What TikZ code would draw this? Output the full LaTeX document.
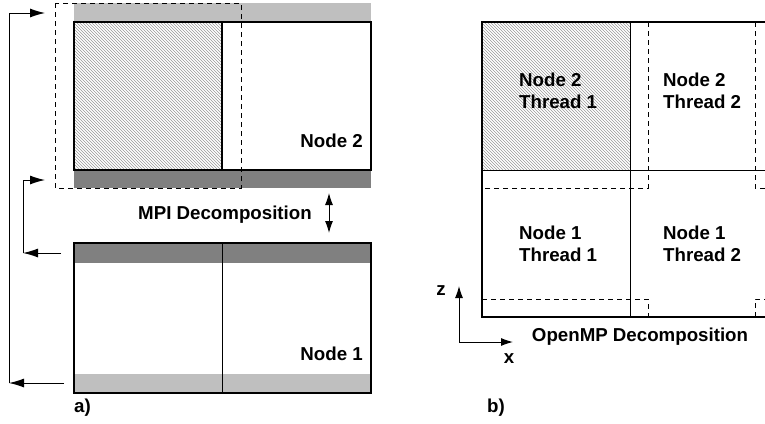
\documentclass[tikz,border=0pt]{standalone}
\usepackage{fontspec}
\setmainfont{Liberation Sans}
\usetikzlibrary{arrows.meta,patterns}

\tikzset{
  lbl/.style={font=\fontsize{18.7}{22}\selectfont\bfseries, inner sep=0pt},
  hatched/.style={fill=white, pattern=north west lines, pattern color=black!40},
  ghost/.style={dash pattern=on 5pt off 4pt, line width=1pt},
  outline/.style={line width=1.4pt},
  arr/.style={-{Latex[length=15pt,width=9pt]}, line width=1pt},
}

\begin{document}
\begin{tikzpicture}[x=1pt,y=-1pt]
\useasboundingbox (0,0) rectangle (765,423);

% a) Node 2
\fill[black!25] (74,3) rectangle (371,22);
\fill[white] (74,22) rectangle (371,170);
\fill[hatched] (74,22) rectangle (222,170);
\fill[black!50] (74,170) rectangle (371,188);
\draw[outline] (74,22) rectangle (371,170);
\draw[outline] (222,22) -- (222,170);
\draw[ghost] (55,3) rectangle (241,188);
\node[lbl, anchor=base east] (node2) at (363,147) {Node 2};

% a) Node 1
\fill[black!50] (74,243) rectangle (371,263);
\fill[black!25] (74,374) rectangle (371,393);
\draw[outline] (74,243) rectangle (371,393);
\draw[line width=1pt] (222,243) -- (222,393);
\node[lbl, anchor=base east] (node1) at (363,360) {Node 1};

% MPI Decomposition
\node[lbl] (mpi) at (225,215) {MPI Decomposition};
\coordinate (mpitop) at (329,193);
\coordinate (mpibot) at (329,233);
\draw[{Latex[length=12pt,width=8pt]}-{Latex[length=12pt,width=8pt]}, line width=1pt] (mpitop) -- (mpibot);

% halo exchange arrows
\coordinate (outA) at (64,383);
\coordinate (cornerA) at (9,383);
\coordinate (inA) at (45,13);
\draw[arr] (outA) -- (cornerA);
\draw[arr] (cornerA) |- (inA);
\coordinate (outB) at (61,253);
\coordinate (cornerB) at (23,253);
\coordinate (inB) at (45,180);
\draw[arr] (outB) -- (cornerB);
\draw[arr] (cornerB) |- (inB);

\node[lbl, anchor=west] (capa) at (74,408) {a)};

% b) threads
\fill[hatched] (482,22) rectangle (630,170);
\draw[outline] (765,22) -- (482,22) -- (482,317) -- (765,317);
\draw[line width=1pt] (482,170) -- (765,170);
\draw[line width=1pt] (630,22) -- (630,317);
\draw[ghost] (648,22) -- (648,188) -- (482,188);
\draw[ghost] (482,299) -- (648,299) -- (648,317);
\draw[ghost] (755,22) -- (755,188) -- (765,188);
\draw[ghost] (755,317) -- (755,299) -- (765,299);

\node[lbl, align=left, anchor=west] (n2t1) at (519,91) {Node 2\\Thread 1};
\node[lbl, align=left, anchor=west] (n2t2) at (663,91) {Node 2\\Thread 2};
\node[lbl, align=left, anchor=west] (n1t1) at (519,244) {Node 1\\Thread 1};
\node[lbl, align=left, anchor=west] (n1t2) at (663,244) {Node 1\\Thread 2};

% axes
\coordinate (orig) at (459,342);
\coordinate (zend) at (459,286);
\coordinate (xend) at (513,342);
\draw[-{Latex[length=12pt,width=8pt]}, line width=1pt] (orig) -- (zend);
\draw[-{Latex[length=12pt,width=8pt]}, line width=1pt] (orig) -- (xend);
\node[lbl] (zlbl) at (441,291) {z};
\node[lbl] (xlbl) at (509,359) {x};

\node[lbl] (omp) at (640,337) {OpenMP Decomposition};
\node[lbl, anchor=west] (capb) at (487,408) {b)};

\end{tikzpicture}
\end{document}
